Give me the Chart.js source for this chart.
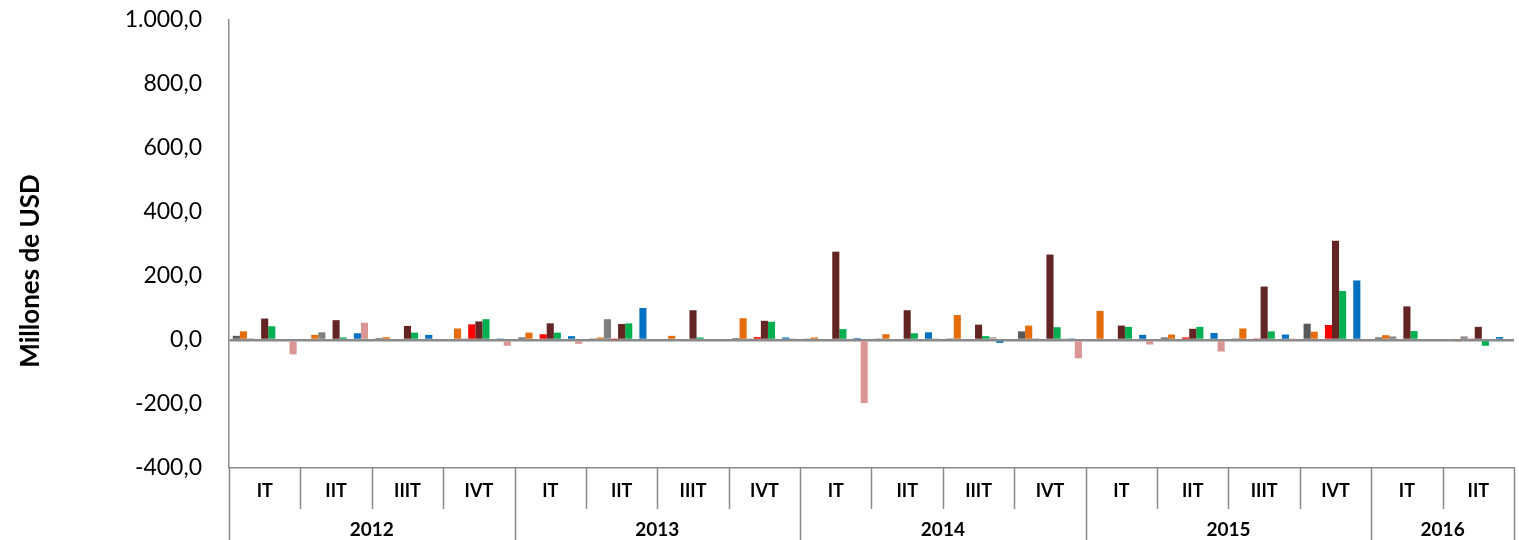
<!DOCTYPE html>
<html><head><meta charset="utf-8">
<script src="https://cdn.jsdelivr.net/npm/chart.js@4.4.0/dist/chart.umd.min.js"></script>
<style>html,body{margin:0;padding:0;background:#fff}#wrap{width:1519px;height:540px;position:relative}</style>
</head><body><div id="wrap"><canvas id="c"></canvas></div>
<script>
const quarters = ['IT','IIT','IIIT','IVT','IT','IIT','IIIT','IVT','IT','IIT','IIIT','IVT','IT','IIT','IIIT','IVT','IT','IIT'];
const years = ['2012','2013','2014','2015','2016'];
const yearSpans = [4,4,4,4,2];
const yTitle = 'Millones de USD';

const serie1 = [13, 0, 6, 0, 8, 5, 0, 6, 3, 3, 5, 27, 0, 8, 5, 51, 8, 0];
const serie2 = [27, 16, 9, 36, 23, 8, 13, 68, 8, 18, 78, 45, 91, 17, 36, 26, 15, -3];
const serie3 = [5, 24, 0, 2, 0, 65, 0, 2, 0, 0, 0, 5, 0, 0, 0, 4, 11, 11];
const serie4 = [0, 0, 0, 49, 18, 2, 0, 9, 4, 0, 0, 0, 0, 8, 5, 47, 0, 3];
const serie5 = [67, 62, 44, 58, 52, 50, 93, 60, 276, 93, 48, 267, 45, 35, 167, 310, 105, 41];
const serie6 = [43, 8, 23, 65, 23, 52, 8, 57, 34, 21, 12, 40, 41, 41, 27, 153, 28, -18];
const serie7 = [0, 0, 0, 0, 0, 0, 0, 0, 0, 0, 9, 2, 0, 0, 0, 0, 0, 0];
const serie8 = [0, 21, 16, 5, 12, 100, 0, 8, 6, 24, -9, 5, 16, 22, 17, 186, 4, 9];
const serie9 = [-45, 54, 0, -18, -12, 0, 0, 5, -197, 5, 0, -57, -14, -36, 2, 0, 4, 0];

const seriesList = [serie1, serie2, serie3, serie4, serie5, serie6, serie7, serie8, serie9];
const seriesNames = ['Serie 1','Serie 2','Serie 3','Serie 4','Serie 5','Serie 6','Serie 7','Serie 8','Serie 9'];
const colors = ['#595959','#E46C0A','#7F7F7F','#FF0000','#632523','#00B050','#A6A6A6','#0070C0','#D99694'];

const FONT = 'Lato, "Open Sans", sans-serif';
const AXIS = '#8a8a8a';

function fmt(v){
  const neg = v < 0;
  let [i, d] = Math.abs(v).toFixed(1).split('.');
  i = i.replace(/\B(?=(\d{3})+(?!\d))/g, '.');
  return (neg ? '-' : '') + i + ',' + d;
}

const decor = {
  id: 'decor',
  afterDraw(chart){
    const {ctx, chartArea} = chart;
    const x = chart.scales.x;
    const step = x.getPixelForValue(1) - x.getPixelForValue(0);
    const start = x.getPixelForValue(0) - step/2;
    const bottom = chartArea.bottom;
    const H = chart.height;
    const bounds = [0];
    let acc = 0;
    yearSpans.forEach(s => { acc += s; bounds.push(acc); });
    ctx.save();
    ctx.strokeStyle = AXIS;
    ctx.lineWidth = 1.5;
    for (let i = 0; i <= quarters.length; i++){
      const px = Math.round(start + i*step) + 0.5;
      const end = bounds.includes(i) ? H : bottom + 41;
      ctx.beginPath(); ctx.moveTo(px, bottom); ctx.lineTo(px, end); ctx.stroke();
    }
    ctx.fillStyle = '#000';
    ctx.font = 'bold 19px ' + FONT;
    ctx.textAlign = 'center';
    ctx.textBaseline = 'middle';
    for (let k = 0; k < years.length; k++){
      const cx = start + (bounds[k] + bounds[k+1]) / 2 * step;
      ctx.fillText(years[k], cx, bottom + 62);
    }
    ctx.translate(38.5, 271);
    ctx.rotate(-Math.PI/2);
    ctx.textBaseline = 'alphabetic';
    ctx.font = 'bold 26px ' + FONT;
    ctx.fillText(yTitle, 0, 0);
    ctx.restore();
  }
};

new Chart(document.getElementById('c'), {
  type: 'bar',
  data: {
    labels: quarters,
    datasets: seriesList.map((d, i) => ({
      label: seriesNames[i],
      data: d,
      backgroundColor: colors[i],
      borderWidth: 0,
      categoryPercentage: 0.895,
      barPercentage: 1.0
    }))
  },
  options: {
    responsive: true,
    maintainAspectRatio: false,
    animation: false,
    layout: { padding: { top: 20, right: 5, bottom: 0, left: 0 } },
    plugins: { legend: { display: false }, tooltip: { enabled: false } },
    scales: {
      x: {
        grid: { display: false, drawTicks: false },
        border: { display: true, color: AXIS, width: 1.5 },
        ticks: { color: '#000', font: { family: FONT, size: 18, weight: 'bold' }, padding: 12, maxRotation: 0, autoSkip: false },
        afterFit(s){ s.height = 72; s.paddingLeft = 0; s.paddingRight = 0; }
      },
      y: {
        min: -400, max: 1000,
        grid: {
          drawTicks: false,
          color: c => c.tick && c.tick.value === 0 ? AXIS : 'rgba(0,0,0,0)',
          lineWidth: c => c.tick && c.tick.value === 0 ? 2.5 : 0
        },
        border: { display: true, color: AXIS, width: 1.5 },
        ticks: { stepSize: 200, color: '#000', padding: 27, font: { family: FONT, size: 23 }, callback: v => fmt(v) },
        afterFit(s){ s.width = 229; s.paddingTop = 0; s.paddingBottom = 0; }
      }
    }
  },
  plugins: [decor]
});
</script>
</body></html>
